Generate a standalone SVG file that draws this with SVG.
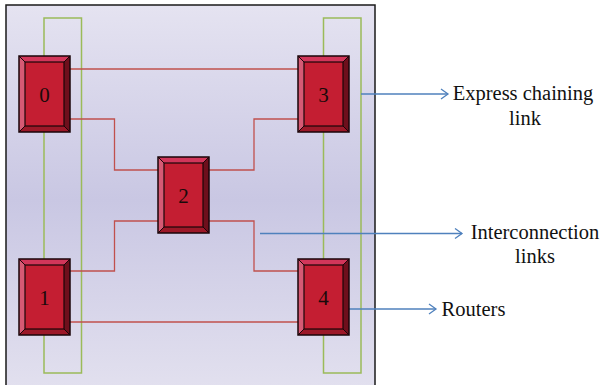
<svg xmlns="http://www.w3.org/2000/svg" width="606" height="385" viewBox="0 0 606 385">
  <defs>
    <linearGradient id="panelFill" x1="0" y1="0" x2="0" y2="1">
      <stop offset="0" stop-color="#e5e3f1"/>
      <stop offset="0.5" stop-color="#c9c7e3"/>
      <stop offset="1" stop-color="#e3e1ef"/>
    </linearGradient>
    <marker id="openArrow" markerWidth="10" markerHeight="12" refX="8" refY="6" orient="auto" markerUnits="userSpaceOnUse">
      <path d="M1,1 L8,6 L1,11" fill="none" stroke="#4f81bd" stroke-width="1.3"/>
    </marker>
    <!-- bevelled router block, 51 x 76, origin at top-left -->
    <g id="router">
      <rect x="0" y="0" width="51" height="76" fill="#c41e32"/>
      <polygon points="0,0 51,0 45,6 6,6" fill="#d2365a"/>
      <polygon points="0,0 6,6 6,70 0,76" fill="#d65a74"/>
      <polygon points="51,0 51,76 45,70 45,6" fill="#6e0f1c"/>
      <polygon points="0,76 6,70 45,70 51,76" fill="#9c1828"/>
      <rect x="6" y="6" width="39" height="64" fill="#c41e32" stroke="#1a0508" stroke-width="1.2"/>
      <line x1="0" y1="0" x2="6" y2="6" stroke="#1a0508" stroke-width="1"/>
      <line x1="51" y1="0" x2="45" y2="6" stroke="#1a0508" stroke-width="1"/>
      <line x1="0" y1="76" x2="6" y2="70" stroke="#1a0508" stroke-width="1"/>
      <line x1="51" y1="76" x2="45" y2="70" stroke="#1a0508" stroke-width="1"/>
      <rect x="0" y="0" width="51" height="76" fill="none" stroke="#1a0508" stroke-width="1.5"/>
    </g>
  </defs>
  <style>
    .express { fill: none; stroke: #9bbb59; stroke-width: 1.5; }
    .link { fill: none; stroke: #c0504d; stroke-width: 1.3; }
    .pointer { fill: none; stroke: #4f81bd; stroke-width: 1.3; marker-end: url(#openArrow); }
    .num { font-family: "Liberation Serif", "Times New Roman", serif; font-size: 21px; fill: #1a0a0a; text-anchor: middle; }
    .label { font-family: "Liberation Serif", "Times New Roman", serif; font-size: 20.5px; fill: #111; text-anchor: middle; }
  </style>

  <rect width="606" height="385" fill="#ffffff"/>
  <!-- chip panel -->
  <rect id="panel" x="6" y="5" width="369" height="390" fill="url(#panelFill)" stroke="#1a1a1a" stroke-width="1.5"/>

  <g id="connectors">
    <!-- express chaining loops -->
    <path class="express" d="M44,56 V18 H81.5 V373 H44 V335"/>
    <line class="express" x1="44" y1="132" x2="44" y2="259"/>
    <path class="express" d="M323.5,56 V18 H361 V373 H323.5 V335"/>
    <line class="express" x1="323.5" y1="132" x2="323.5" y2="259"/>
    <!-- interconnection links -->
    <line class="link" x1="70" y1="69" x2="298" y2="69"/>
    <line class="link" x1="70" y1="322" x2="298" y2="322"/>
    <path class="link" d="M70,119 H114.5 V170 H158"/>
    <path class="link" d="M70,271 H114.5 V221 H158"/>
    <path class="link" d="M209,170 H254 V119 H298"/>
    <path class="link" d="M209,221 H254 V271 H298"/>
    <!-- callout arrows -->
    <line class="pointer" x1="361" y1="94" x2="448" y2="94"/>
    <line class="pointer" x1="260" y1="233.5" x2="462" y2="233.5"/>
    <line class="pointer" x1="349" y1="309" x2="436" y2="309"/>
  </g>

  <g id="router0"><use href="#router" x="19" y="56"/><text class="num" x="44.5" y="102">0</text></g>
  <g id="router1"><use href="#router" x="19" y="259"/><text class="num" x="44.5" y="305">1</text></g>
  <g id="router2"><use href="#router" x="158" y="157"/><text class="num" x="183.5" y="203">2</text></g>
  <g id="router3"><use href="#router" x="298" y="56"/><text class="num" x="323.5" y="102">3</text></g>
  <g id="router4"><use href="#router" x="298" y="259"/><text class="num" x="323.5" y="305">4</text></g>

  <g id="label-express">
    <text class="label" x="523" y="100">Express chaining</text>
    <text class="label" x="525" y="125">link</text>
  </g>
  <g id="label-interconnection">
    <text class="label" x="535" y="239">Interconnection</text>
    <text class="label" x="535" y="262.5">links</text>
  </g>
  <g id="label-routers">
    <text class="label" x="473.5" y="316">Routers</text>
  </g>
</svg>
